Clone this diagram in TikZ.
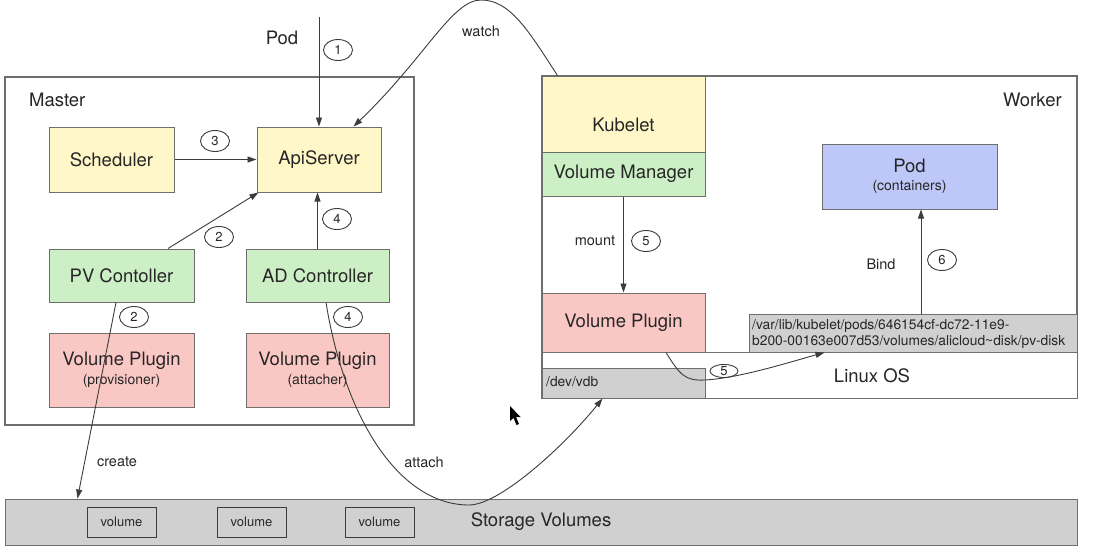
\documentclass[tikz,border=0pt]{standalone}
\usepackage{fontspec}
\setmainfont{TeX Gyre Heros}
\usetikzlibrary{arrows.meta,shapes.geometric}
\definecolor{ylw}{HTML}{FFF7C8}
\definecolor{grn}{HTML}{CDEFC6}
\definecolor{pnk}{HTML}{FAC8C4}
\definecolor{blu}{HTML}{BDC8F8}
\definecolor{gry}{HTML}{D0D0D0}
\definecolor{bord}{HTML}{6E6E6E}
\definecolor{txt}{HTML}{262626}
\definecolor{lin}{HTML}{3C3C3C}
\newcommand\fbig{\fontsize{18.5}{21}\selectfont}
\newcommand\fmid{\fontsize{14.5}{17}\selectfont}
\newcommand\fsub{\fontsize{14}{16}\selectfont}
\newcommand\fpath{\fontsize{13.8}{16.5}\selectfont}
\newcommand\fnum{\fontsize{13}{15}\selectfont}
\begin{document}
\begin{tikzpicture}[x=1pt,y=-1pt,
  box/.style={draw=bord, line width=1pt, inner sep=0pt, align=center, text=txt, font=\fbig},
  frame/.style={draw=bord, line width=1.3pt, inner sep=0pt, fill=white},
  lbl/.style={inner sep=0pt, text=txt, font=\fbig},
  small/.style={inner sep=0pt, text=txt, font=\fmid},
  num/.style={ellipse, draw=lin, line width=0.9pt, inner sep=0pt, minimum width=29pt, minimum height=21pt, text=txt, font=\fnum},
  arr/.style={draw=lin, line width=0.9pt, -{Triangle[length=9pt,width=6pt]}},
  vol/.style={draw=lin, line width=1pt, fill=gry, inner sep=0pt, minimum width=69pt, minimum height=30pt, text=txt, font=\fnum}
]
\useasboundingbox (0,0) rectangle (1098,549);
\fill[white] (0,0) rectangle (1098,549);

% frames
\node[frame, minimum width=409pt, minimum height=348pt] (master) at (209.5,251) {};
\node[frame, minimum width=535pt, minimum height=322pt] (worker) at (809.5,237) {};
\node[lbl, anchor=west] (masterlbl) at (29,100) {Master};
\node[lbl, anchor=east] (workerlbl) at (1062,100) {Worker};

% master boxes
\node[box, fill=ylw, minimum width=125pt, minimum height=65pt] (sched) at (111.5,159.5) {Scheduler};
\node[box, fill=ylw, minimum width=124pt, minimum height=65pt] (api) at (319,159.5) {ApiServer};
\node[box, fill=grn, minimum width=145pt, minimum height=53pt] (pvc) at (121.5,275.5) {PV Contoller};
\node[box, fill=grn, minimum width=143pt, minimum height=53pt] (adc) at (317.5,275.5) {AD Controller};
\node[box, fill=pnk, minimum width=145pt, minimum height=74pt] (vpp) at (121.5,370) {Volume Plugin\\[-2pt]{\fsub(provisioner)}};
\node[box, fill=pnk, minimum width=143pt, minimum height=74pt] (vpa) at (317.5,370) {Volume Plugin\\[-2pt]{\fsub(attacher)}};

% worker boxes
\node[box, fill=white, minimum width=535pt, minimum height=46pt] (linux) at (809.5,375) {};
\node[lbl] (linuxlbl) at (872,376) {Linux OS};
\node[box, fill=ylw, minimum width=163pt, minimum height=76pt] (kubelet) at (623.5,114) {};
\node[lbl] (kubeletlbl) at (623.5,125) {Kubelet};
\node[box, fill=grn, minimum width=163pt, minimum height=44pt] (vm) at (623.5,174) {Volume Manager};
\node[box, fill=pnk, minimum width=163pt, minimum height=59pt] (vpw) at (623.5,322.5) {Volume Plugin};
\node[box, fill=gry, minimum width=163pt, minimum height=30pt] (vdb) at (623.5,383) {};
\node[inner sep=0pt, anchor=west, text=txt, font=\fpath] (vdblbl) at (546,382) {/dev/vdb};
\node[box, fill=gry, minimum width=328pt, minimum height=38pt] (path) at (913,333) {};
\node[inner sep=0pt, anchor=west, align=left, text=txt, font=\fpath] (pathlbl) at (752,334)
  {/var/lib/kubelet/pods/646154cf-dc72-11e9-\\b200-00163e007d53/volumes/alicloud\textasciitilde disk/pv-disk};
\node[box, fill=blu, minimum width=175pt, minimum height=65pt] (pod) at (909.5,176.5) {Pod\\[-3pt]{\fsub(containers)}};

% storage
\node[box, fill=gry, minimum width=1072pt, minimum height=46pt] (storage) at (541,522) {Storage Volumes};
\node[vol] (vol1) at (121.5,522) {volume};
\node[vol] (vol2) at (251.5,522) {volume};
\node[vol] (vol3) at (379.5,522) {volume};

% connectors
\coordinate (podin) at (319,17);
\node[lbl] (podlbl) at (282,38) {Pod};
\draw[arr] (podin) -- (api.north);
\draw[arr] (sched.east) -- (api.west);
\draw[arr] ([xshift=46.5pt]pvc.north) -- ([xshift=2pt]api.south west);
\draw[arr] (adc.north) -- (adc.north |- api.south);
\draw[arr] ([xshift=16pt]kubelet.north west) .. controls (528,30) and (510,0) .. (481,0)
   .. controls (452,0) and (425,58) .. ([xshift=-28pt]api.north east);
\node[small] (watchlbl) at (481,31) {watch};
\draw[arr] ([xshift=-5.5pt]pvc.south) -- ([xshift=73pt]storage.north west);
\node[small] (createlbl) at (117,462) {create};
\draw[arr] ([xshift=8.5pt]adc.south) .. controls (345,420) and (400,505) .. (469,505)
   .. controls (500,505) and (565,445) .. ([xshift=61pt]vdb.south west);
\node[small] (attachlbl) at (424,462) {attach};
\draw[arr] (vm.south) -- (vpw.north);
\node[small] (mountlbl) at (595,241) {mount};
\coordinate (bindstart) at ([xshift=8pt]path.north);
\draw[arr] (bindstart) -- (bindstart |- pod.south);
\node[small] (bindlbl) at (881,264) {Bind};
\draw[arr] ([xshift=42.5pt]vpw.south) .. controls (680,375) and (685,381) .. (705,380)
   .. controls (740,378) and (790,362) .. ([xshift=76pt]path.south west);

% step numbers
\node[num] (n1) at (338,50) {1};
\node[num] (n3) at (215,141) {3};
\node[num] (n2a) at (219,237) {2};
\node[num] (n4a) at (337,219) {4};
\node[num] (n2b) at (134,317) {2};
\node[num] (n4b) at (348,317) {4};
\node[num] (n5a) at (646,241) {5};
\node[num] (n6) at (942,260) {6};
\node[num, minimum width=28pt, minimum height=13pt] (n5b) at (724,371) {5};

% mouse pointer
\fill[black] (510,406) -- (510,421) -- (513.5,418) -- (516.5,425) -- (519,424) -- (516,417) -- (520.5,417) -- cycle;
\end{tikzpicture}
\end{document}
